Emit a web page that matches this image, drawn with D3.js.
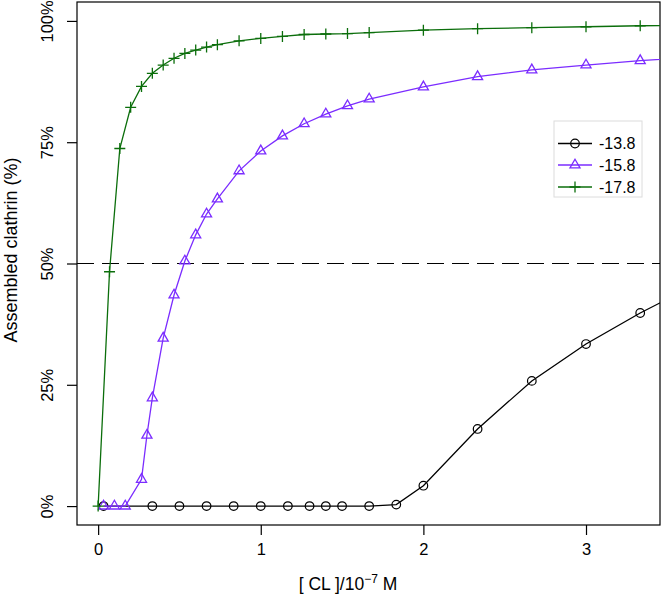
<!DOCTYPE html>
<html><head><meta charset="utf-8">
<script src="https://cdn.jsdelivr.net/npm/d3@7/dist/d3.min.js"></script>
<style>body{margin:0;background:#fff}svg text{font-family:"Liberation Sans",Arial,sans-serif}</style>
</head><body><svg id="c" width="663" height="595"></svg>
<script>
const xCirc = [0.0333,0.3333,0.5,0.6667,0.8333,1.0,1.1667,1.3,1.4,1.5,1.6667,1.8333,2.0,2.3333,2.6667,3.0,3.3333,3.6667];
const yCirc = [0,0,0,0,0,0,0,0,0,0,0,0.3,4.2,15.9,25.8,33.4,39.8,45.5];
const xTri = [0.0333,0.1,0.1667,0.2667,0.3,0.3333,0.4,0.4667,0.5333,0.6,0.6667,0.7333,0.8667,1.0,1.1333,1.2667,1.4,1.5333,1.6667,2.0,2.3333,2.6667,3.0,3.3333,3.6667];
const yTri = [0,0,0,5.5,14.6,22.3,34.6,43.5,50.5,55.9,60.2,63.3,69.1,73.2,76.3,78.8,80.8,82.5,83.9,86.4,88.5,89.9,90.9,91.8,92.5];
const xPlus = [0,0.07,0.1333,0.2,0.2667,0.3333,0.4,0.4667,0.5333,0.6,0.6667,0.7333,0.8667,1.0,1.1333,1.2667,1.4,1.5333,1.6667,2.0,2.3333,2.6667,3.0,3.3333,3.6667];
const yPlus = [0,48.3,73.7,82.2,86.5,89.2,90.9,92.3,93.3,94.0,94.6,95.1,95.9,96.4,96.8,97.2,97.3,97.4,97.6,98.1,98.4,98.6,98.8,99.0,99.1];
const seriesNames = ["-13.8","-15.8","-17.8"];
const seriesColors = ["#000000","#7b2cff","#0b6e0b"];
const xTicks = [0,1,2,3];
const yTicks = [0,25,50,75,100];
const refLine = 50;

const svg = d3.select("#c");
const L=77,R=660,T=2,B=525;
const x = d3.scaleLinear().domain([-0.13,3.455]).range([L,R]);
const y = d3.scaleLinear().domain([-3.9,103.9]).range([B,T]);

svg.append("defs").append("clipPath").attr("id","clip")
  .append("rect").attr("x",L).attr("y",T).attr("width",R-L).attr("height",B-T);

svg.append("rect").attr("x",L).attr("y",T).attr("width",R-L).attr("height",B-T)
  .attr("fill","none").attr("stroke","#000").attr("stroke-width",1.2);

const xa = svg.append("g").attr("transform",`translate(0,${B})`)
  .call(d3.axisBottom(x).tickValues(xTicks).tickFormat(d3.format("d")).tickSize(10).tickPadding(8));
xa.select(".domain").remove();
xa.selectAll("text").attr("font-size",16.5).attr("fill","#000").attr("font-family","Liberation Sans, Arial, sans-serif");
xa.selectAll("line").attr("stroke","#000").attr("stroke-width",1.2);

const ya = svg.append("g").attr("transform",`translate(${L},0)`)
  .call(d3.axisLeft(y).tickValues(yTicks).tickFormat(d=>d+"%").tickSize(10));
ya.select(".domain").remove();
ya.selectAll("line").attr("stroke","#000").attr("stroke-width",1.2);
ya.selectAll("text").attr("font-size",16.5).attr("fill","#000")
  .attr("font-family","Liberation Sans, Arial, sans-serif")
  .attr("x",0).attr("dy",null)
  .attr("text-anchor","middle").attr("dominant-baseline","central")
  .attr("transform","translate(-30,0) rotate(-90)");

const xt = svg.append("text").attr("x",348).attr("y",590).attr("text-anchor","middle").attr("font-size",17.5);
xt.append("tspan").text("[ CL ]/10");
xt.append("tspan").attr("dy",-7).attr("font-size",12).text("\u22127");
xt.append("tspan").attr("dy",7).text(" M");
svg.append("text").attr("transform","translate(16.5,250) rotate(-90)").attr("text-anchor","middle")
  .attr("font-size",18).text("Assembled clathrin (%)");

const plot = svg.append("g").attr("clip-path","url(#clip)");

plot.append("line").attr("x1",L).attr("x2",R).attr("y1",y(refLine)).attr("y2",y(refLine))
  .attr("stroke","#000").attr("stroke-width",1.2).attr("stroke-dasharray","17,8");

const line = d3.line().x(d=>x(d[0])).y(d=>y(d[1]));
const sets = [d3.zip(xCirc,yCirc), d3.zip(xTri,yTri), d3.zip(xPlus,yPlus)];

function drawMarker(g, k, cx, cy, col){
  if(k===0){
    g.append("circle").attr("cx",cx).attr("cy",cy).attr("r",4.3).attr("fill","none").attr("stroke",col).attr("stroke-width",1.2);
  } else if(k===1){
    const r=5.8;
    g.append("path").attr("d",`M${cx},${cy-r}L${cx+r*0.866},${cy+r/2}L${cx-r*0.866},${cy+r/2}Z`)
      .attr("fill","none").attr("stroke",col).attr("stroke-width",1.3);
  } else {
    const s=5.5;
    g.append("path").attr("d",`M${cx-s},${cy}H${cx+s}M${cx},${cy-s}V${cy+s}`)
      .attr("stroke",col).attr("stroke-width",1.3).attr("fill","none");
  }
}

sets.forEach((data,k)=>{
  plot.append("path").datum(data).attr("d",line).attr("fill","none")
    .attr("stroke",seriesColors[k]).attr("stroke-width",1.3);
  const g = plot.append("g");
  data.forEach(d=>drawMarker(g,k,x(d[0]),y(d[1]),seriesColors[k]));
});

const lg = svg.append("g");
lg.append("rect").attr("x",554).attr("y",121).attr("width",88).attr("height",76)
  .attr("fill","#fff").attr("stroke","#dcdcdc").attr("stroke-width",1);
const rowY=[143.5,165,187];
seriesNames.forEach((nm,k)=>{
  lg.append("line").attr("x1",558).attr("x2",592).attr("y1",rowY[k]).attr("y2",rowY[k])
    .attr("stroke",seriesColors[k]).attr("stroke-width",1.3);
  drawMarker(lg,k,575,rowY[k],seriesColors[k]);
  lg.append("text").attr("x",599).attr("y",rowY[k]).attr("dominant-baseline","central")
    .attr("font-size",16).text(nm);
});
</script></body></html>
